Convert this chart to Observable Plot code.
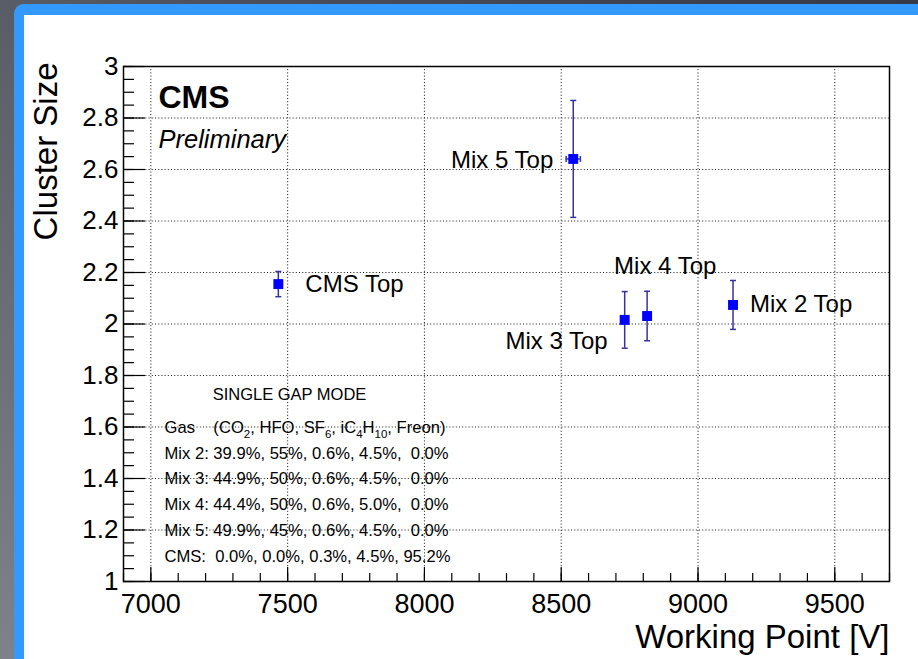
<!DOCTYPE html>
<html><head><meta charset="utf-8">
<script src="https://cdn.jsdelivr.net/npm/d3@7"></script>
<script src="https://cdn.jsdelivr.net/npm/@observablehq/plot@0.6"></script>
<style>
html,body{margin:0;padding:0;width:918px;height:659px;overflow:hidden;}
body{background:linear-gradient(225deg,#353a44 0%,#4c515b 45%,#7e828a 100%);position:relative;font-family:"Liberation Sans",Arial,sans-serif;}
#panel{position:absolute;left:14px;top:4px;width:940px;height:720px;background:#fff;border-left:10px solid #3399ff;border-top:11px solid #3399ff;border-radius:10px 0 0 0;}
#chart{position:absolute;left:0;top:0;}
</style></head><body>
<div id="panel"></div>
<div id="chart"></div>
<script>
// ---- data ----
const mixNames = ["CMS Top", "Mix 2 Top", "Mix 3 Top", "Mix 4 Top", "Mix 5 Top"];
const workingPoint = [7466, 9128, 8732, 8814, 8544];
const workingPointErr = [0, 0, 0, 0, 26];
const clusterSize = [2.155, 2.074, 2.016, 2.031, 2.641];
const clusterSizeErr = [0.049, 0.095, 0.11, 0.096, 0.227];
const xTickValues = [7000, 7500, 8000, 8500, 9000, 9500];
const yTickValues = [1, 1.2, 1.4, 1.6, 1.8, 2, 2.2, 2.4, 2.6, 2.8, 3];
const yTickLabels = ["1", "1.2", "1.4", "1.6", "1.8", "2", "2.2", "2.4", "2.6", "2.8", "3"];
const xTitle = "Working Point [V]";
const yTitle = "Cluster Size";
const boxTitle = "SINGLE GAP MODE";
const gasLines = [
  "Gas\u00a0\u00a0\u00a0\u00a0(CO\u2082, HFO, SF\u2086, iC\u2084H\u2081\u2080, Freon)",
  "Mix 2: 39.9%, 55%, 0.6%, 4.5%,\u00a0\u00a00.0%",
  "Mix 3: 44.9%, 50%, 0.6%, 4.5%,\u00a0\u00a00.0%",
  "Mix 4: 44.4%, 50%, 0.6%, 5.0%,\u00a0\u00a00.0%",
  "Mix 5: 49.9%, 45%, 0.6%, 4.5%,\u00a0\u00a00.0%",
  "CMS:\u00a0\u00a00.0%, 0.0%, 0.3%, 4.5%, 95.2%"
];

const points = mixNames.map((name, i) => ({
  name, x: workingPoint[i], xe: workingPointErr[i], y: clusterSize[i], ye: clusterSizeErr[i]
}));

// ---- layout ----
const W = 918, H = 659, mL = 123, mT = 66, mR = 29, mB = 78;
const fw = W - mL - mR, fh = H - mT - mB;
const FONT = "Liberation Sans, Arial, Helvetica, sans-serif";
const labelPlacement = {
  "CMS Top": {dx: 27, dy: 0, anchor: "start"},
  "Mix 2 Top": {dx: 17, dy: -1, anchor: "start"},
  "Mix 3 Top": {dx: -17, dy: 21, anchor: "end"},
  "Mix 4 Top": {dx: -33, dy: -50, anchor: "start"},
  "Mix 5 Top": {dx: -20, dy: 1, anchor: "end"}
};
const hCap = {draw(ctx, size) { const r = Math.sqrt(size / Math.PI); ctx.moveTo(-r, 0); ctx.lineTo(r, 0); }};
const vCap = {draw(ctx, size) { const r = Math.sqrt(size / Math.PI); ctx.moveTo(0, -r); ctx.lineTo(0, r); }};
const errColor = "#33339f";

const xMinor = d3.range(6900, 9701, 100);
const yMinor = d3.range(1, 3.0001, 0.05);

const chart = Plot.plot({
  width: W, height: H,
  marginLeft: mL, marginTop: mT, marginRight: mR, marginBottom: mB,
  style: {background: "transparent", fontFamily: FONT, color: "black"},
  x: {domain: [6900, 9700]},
  y: {domain: [1, 3]},
  marks: [
    // grid
    Plot.ruleX(xTickValues, {x: d => d, stroke: "#111", strokeWidth: 1, strokeDasharray: "1,2.2"}),
    Plot.ruleY(yTickValues.slice(1, -1), {y: d => d, stroke: "#111", strokeWidth: 1, strokeDasharray: "1,2.2"}),
    // inside ticks
    Plot.ruleY(yMinor, {y: d => d, insetRight: fw - 11, stroke: "black", strokeWidth: 1.2}),
    Plot.ruleY(yTickValues, {y: d => d, insetRight: fw - 22, stroke: "black", strokeWidth: 1.2}),
    Plot.ruleX(xMinor, {x: d => d, insetTop: fh - 8, stroke: "black", strokeWidth: 1.2}),
    Plot.ruleX(xTickValues, {x: d => d, insetTop: fh - 14, stroke: "black", strokeWidth: 1.2}),
    Plot.frame({stroke: "black", strokeWidth: 1.5}),
    // axes (labels only)
    Plot.axisX({ticks: xTickValues, tickSize: 0, tickPadding: 12, fontSize: 27, tickFormat: d => String(d), label: null}),
    Plot.axisY({ticks: yTickValues, tickSize: 0, tickPadding: 5, fontSize: 26, tickFormat: d => yTickLabels[yTickValues.indexOf(d)] ?? String(d), label: null}),
    // error bars
    Plot.ruleX(points, {x: "x", y1: d => d.y - d.ye, y2: d => d.y + d.ye, stroke: errColor, strokeWidth: 1.5}),
    Plot.dot(points, {x: "x", y: d => d.y - d.ye, symbol: hCap, r: 3, stroke: errColor, strokeWidth: 1.5, fill: "none"}),
    Plot.dot(points, {x: "x", y: d => d.y + d.ye, symbol: hCap, r: 3, stroke: errColor, strokeWidth: 1.5, fill: "none"}),
    Plot.ruleY(points.filter(d => d.xe > 0), {y: "y", x1: d => d.x - d.xe, x2: d => d.x + d.xe, stroke: errColor, strokeWidth: 1.5}),
    Plot.dot(points.filter(d => d.xe > 0), {x: d => d.x - d.xe, y: "y", symbol: vCap, r: 3, stroke: errColor, strokeWidth: 1.5, fill: "none"}),
    Plot.dot(points.filter(d => d.xe > 0), {x: d => d.x + d.xe, y: "y", symbol: vCap, r: 3, stroke: errColor, strokeWidth: 1.5, fill: "none"}),
    // markers
    Plot.dot(points, {x: "x", y: "y", symbol: "square", r: 5.6, fill: "#0000ff", stroke: "none"}),
    // point labels
    ...points.map(p => Plot.text([p], {x: "x", y: "y", text: "name", dx: labelPlacement[p.name].dx, dy: labelPlacement[p.name].dy,
      textAnchor: labelPlacement[p.name].anchor, lineAnchor: "middle", fontSize: 24, fontFamily: FONT, fill: "black"})),
    // CMS Preliminary
    Plot.text(["CMS"], {frameAnchor: "top-left", dx: 35, dy: 31, lineAnchor: "middle", textAnchor: "start", fontSize: 32, fontWeight: "bold", fontFamily: FONT, fill: "black"}),
    Plot.text(["Preliminary"], {frameAnchor: "top-left", dx: 35, dy: 73, lineAnchor: "middle", textAnchor: "start", fontSize: 25.5, fontStyle: "italic", fontFamily: FONT, fill: "black"}),
    // gas box
    Plot.text([boxTitle], {frameAnchor: "top-left", dx: 166, dy: 322, lineAnchor: "top", textAnchor: "middle", fontSize: 16.5, fontFamily: FONT, fill: "black"}),
    Plot.text([gasLines.join("\n")], {frameAnchor: "top-left", dx: 41, dy: 348, lineAnchor: "top", textAnchor: "start", lineHeight: 1.554, fontSize: 16.6, fontFamily: FONT, fill: "black", className: "gasbox"}),
    // axis titles
    Plot.text([xTitle], {frameAnchor: "bottom-right", dx: 0, dy: 56, lineAnchor: "middle", textAnchor: "end", fontSize: 33, fontFamily: FONT, fill: "black"}),
    Plot.text([yTitle], {frameAnchor: "top-left", dx: -77, dy: -4, lineAnchor: "middle", rotate: -90, textAnchor: "end", fontSize: 33, fontFamily: FONT, fill: "black"})
  ]
});
document.getElementById("chart").appendChild(chart);

// render Unicode subscripts as real lowered, smaller subscripts
const subMap = {"\u2080":"0","\u2081":"1","\u2082":"2","\u2083":"3","\u2084":"4","\u2085":"5","\u2086":"6","\u2087":"7","\u2088":"8","\u2089":"9"};
d3.select(chart).selectAll("text tspan, text").each(function() {
  const el = this;
  if (el.children && el.children.length) return;
  const s = el.textContent;
  if (!/[\u2080-\u2089]/.test(s)) return;
  el.textContent = "";
  const parts = s.match(/[\u2080-\u2089]+|[^\u2080-\u2089]+/g);
  const ns = "http://www.w3.org/2000/svg";
  parts.forEach(part => {
    const t = document.createElementNS(ns, "tspan");
    if (/[\u2080-\u2089]/.test(part)) {
      t.textContent = [...part].map(c => subMap[c]).join("");
      t.setAttribute("font-size", "11.5");
      t.setAttribute("baseline-shift", "-5");
    } else {
      t.textContent = part;
    }
    el.appendChild(t);
  });
});
</script>
</body></html>
